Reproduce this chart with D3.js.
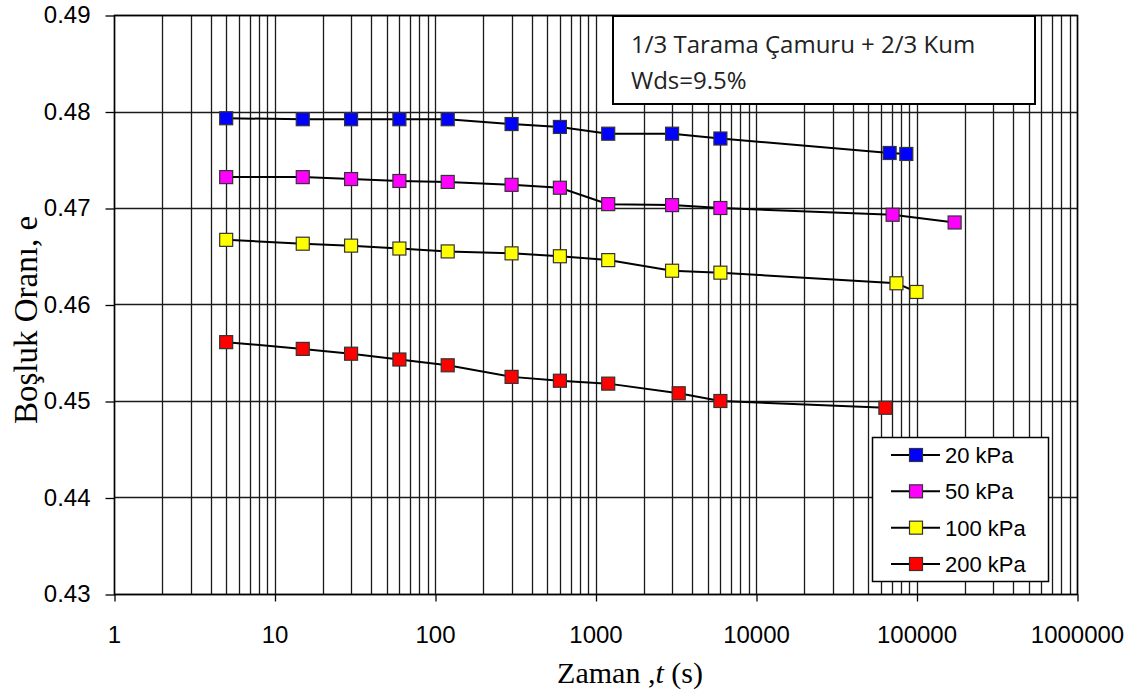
<!DOCTYPE html>
<html>
<head>
<meta charset="utf-8">
<script src="https://cdn.jsdelivr.net/npm/d3@7"></script>
<style>
  html, body { margin: 0; padding: 0; background: #fff; }
  svg { display: block; }
</style>
</head>
<body>
<svg id="chart" width="1140" height="698"></svg>
<script>
// Consolidation data: void ratio e versus time t (s) for four load stages
const times = [5, 15, 30, 60, 120, 300, 600, 1200, 3000, 6000];
const timesBlue = times.concat([68000, 86400]);
const timesMagenta = times.concat([71000, 172800]);
const timesYellow = times.concat([75000, 100000]);
const timesRed = [5, 15, 30, 60, 120, 300, 600, 1200, 3300, 6000, 64000];

const e20 = [0.4793, 0.4792, 0.4792, 0.4792, 0.4792, 0.4787, 0.4784, 0.4777, 0.4777, 0.4772, 0.4757, 0.4756];
const e50 = [0.4732, 0.4732, 0.4730, 0.4728, 0.4727, 0.4724, 0.4721, 0.4704, 0.4703, 0.4700, 0.4693, 0.4685];
const e100 = [0.4667, 0.4663, 0.4661, 0.4658, 0.4655, 0.4653, 0.4650, 0.4646, 0.4635, 0.4633, 0.4622, 0.4613];
const e200 = [0.4561, 0.4554, 0.4549, 0.4543, 0.4537, 0.4525, 0.4521, 0.4518, 0.4508, 0.4500, 0.4493];

const seriesNames = ["20 kPa", "50 kPa", "100 kPa", "200 kPa"];
const seriesColors = ["#0000ff", "#ff00ff", "#ffff00", "#ff0000"];
const xTickValues = [1, 10, 100, 1000, 10000, 100000, 1000000];
const yTickValues = [0.43, 0.44, 0.45, 0.46, 0.47, 0.48, 0.49];

const series = [
  { name: seriesNames[0], color: seriesColors[0], t: timesBlue, e: e20 },
  { name: seriesNames[1], color: seriesColors[1], t: timesMagenta, e: e50 },
  { name: seriesNames[2], color: seriesColors[2], t: timesYellow, e: e100 },
  { name: seriesNames[3], color: seriesColors[3], t: timesRed, e: e200 }
];

const svg = d3.select("#chart");
const plot = { left: 114, right: 1077, top: 15, bottom: 594 };

const x = d3.scaleLog().domain([1, 1000000]).range([plot.left, plot.right]);
const y = d3.scaleLinear().domain([0.43, 0.49]).range([plot.bottom, plot.top]);

const g = svg.append("g");

// Vertical grid: every 1..9 multiple of each decade
const xGrid = x.ticks();
g.append("g").selectAll("line").data(xGrid).join("line")
  .attr("x1", d => Math.round(x(d)) + 0.5).attr("x2", d => Math.round(x(d)) + 0.5)
  .attr("y1", plot.top).attr("y2", plot.bottom)
  .attr("stroke", "#1a1a1a").attr("stroke-width", 1.3);

// Horizontal grid
g.append("g").selectAll("line").data(yTickValues).join("line")
  .attr("x1", plot.left).attr("x2", plot.right)
  .attr("y1", d => Math.round(y(d)) + 0.5).attr("y2", d => Math.round(y(d)) + 0.5)
  .attr("stroke", "#1a1a1a").attr("stroke-width", 1.3);

// Plot frame
g.append("rect")
  .attr("x", plot.left + 0.5).attr("y", plot.top + 0.5)
  .attr("width", plot.right - plot.left).attr("height", plot.bottom - plot.top)
  .attr("fill", "none").attr("stroke", "#000").attr("stroke-width", 1.5);

// Axes
const xAxis = d3.axisBottom(x).tickValues(xTickValues).tickSize(7).tickPadding(24)
  .tickFormat(d3.format("d"));
const gx = g.append("g").attr("transform", `translate(0,${plot.bottom + 0.5})`).call(xAxis);
gx.select(".domain").remove();
gx.selectAll(".tick line").attr("stroke", "#000").attr("stroke-width", 1.3)
  .attr("transform", "translate(0.5,0)");
gx.selectAll(".tick text")
  .attr("font-family", "'Liberation Sans', Arial, sans-serif")
  .attr("font-size", 24).attr("fill", "#000");

const yAxis = d3.axisLeft(y).tickValues(yTickValues).tickSize(9).tickPadding(15)
  .tickFormat(d3.format(".2f"));
const gy = g.append("g").attr("transform", `translate(${plot.left + 0.5},0)`).call(yAxis);
gy.select(".domain").remove();
gy.selectAll(".tick line").attr("stroke", "#000").attr("stroke-width", 1.3)
  .attr("transform", "translate(0,0.5)");
gy.selectAll(".tick text")
  .attr("font-family", "'Liberation Sans', Arial, sans-serif")
  .attr("font-size", 24).attr("fill", "#000");

// Axis titles
const xt = svg.append("text")
  .attr("x", 630).attr("y", 683)
  .attr("text-anchor", "middle")
  .attr("font-family", "'Liberation Serif', 'Times New Roman', serif")
  .attr("font-size", 30).attr("fill", "#000");
xt.append("tspan").text("Zaman ,");
xt.append("tspan").attr("font-style", "italic").text("t");
xt.append("tspan").text(" (s)");

svg.append("text")
  .attr("transform", "translate(37,320) rotate(-90)")
  .attr("text-anchor", "middle")
  .attr("font-family", "'Liberation Serif', 'Times New Roman', serif")
  .attr("font-size", 33).attr("fill", "#000")
  .text("Boşluk Oranı, e");

// Series lines and markers
const line = d3.line().x(d => x(d[0])).y(d => y(d[1]));
const markerSize = 13;

series.forEach(s => {
  const pts = s.t.map((t, i) => [t, s.e[i]]);
  g.append("path").datum(pts)
    .attr("d", line)
    .attr("fill", "none").attr("stroke", "#000").attr("stroke-width", 2);
  g.append("g").selectAll("rect").data(pts).join("rect")
    .attr("x", d => x(d[0]) - markerSize / 2)
    .attr("y", d => y(d[1]) - markerSize / 2)
    .attr("width", markerSize).attr("height", markerSize)
    .attr("fill", s.color).attr("stroke", "#333").attr("stroke-width", 1.2);
});

// Sample description box
const box = { x: 613, y: 16, w: 422, h: 88 };
svg.append("rect")
  .attr("x", box.x).attr("y", box.y).attr("width", box.w).attr("height", box.h)
  .attr("fill", "#fff").attr("stroke", "#000").attr("stroke-width", 2);
const boxText = svg.append("text")
  .attr("font-family", "'Open Sans', sans-serif")
  .attr("font-size", 24).attr("fill", "#222");
boxText.append("tspan").attr("x", 631).attr("y", 53).text("1/3 Tarama Çamuru + 2/3 Kum");
boxText.append("tspan").attr("x", 631).attr("y", 89).text("Wds=9.5%");

// Legend
const legend = { x: 872, y: 437, w: 176, h: 144 };
svg.append("rect")
  .attr("x", legend.x + 0.5).attr("y", legend.y + 0.5)
  .attr("width", legend.w).attr("height", legend.h)
  .attr("fill", "#fff").attr("stroke", "#000").attr("stroke-width", 1.5);
const entryY = d3.scalePoint().domain(seriesNames).range([455, 564]);
const le = svg.append("g").selectAll("g").data(series).join("g")
  .attr("transform", d => `translate(0,${entryY(d.name)})`);
le.append("line").attr("x1", 891).attr("x2", 940).attr("y1", 0).attr("y2", 0)
  .attr("stroke", "#000").attr("stroke-width", 2);
le.append("rect").attr("x", 916 - 6.5).attr("y", -6.5).attr("width", 13).attr("height", 13)
  .attr("fill", d => d.color).attr("stroke", "#333").attr("stroke-width", 1.2);
le.append("text").attr("x", 945).attr("y", 8)
  .attr("font-family", "'Liberation Sans', Arial, sans-serif")
  .attr("font-size", 22).attr("fill", "#000")
  .text(d => d.name);
</script>
</body>
</html>
